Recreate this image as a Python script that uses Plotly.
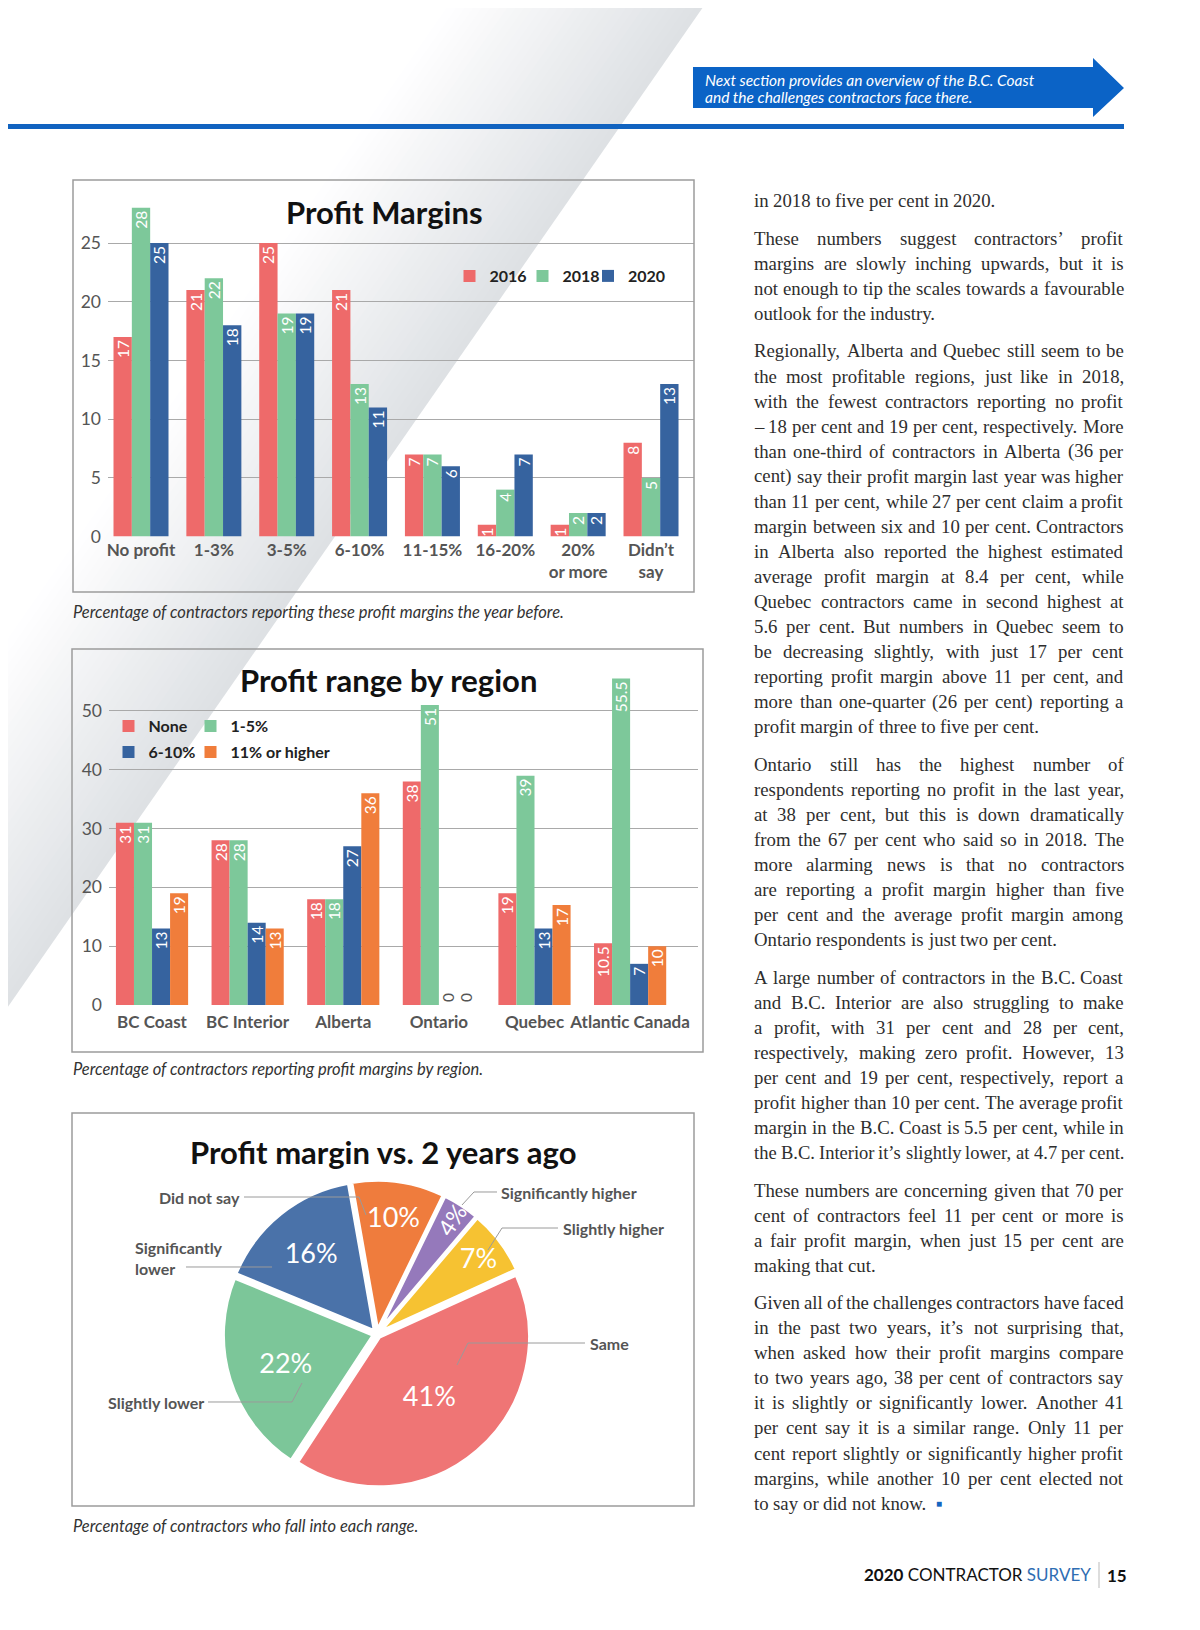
import plotly.graph_objects as go

# ---------------- DATA ----------------
margin_cats = ["No profit", "1-3%", "3-5%", "6-10%", "11-15%", "16-20%", "20%<br>or more", "Didn’t<br>say"]
margin_2016 = [17, 21, 25, 21, 7, 1, 1, 8]
margin_2018 = [28, 22, 19, 13, 7, 4, 2, 5]
margin_2020 = [25, 18, 19, 11, 6, 7, 2, 13]
margin_years = ["2016", "2018", "2020"]
margin_ticks = [0, 5, 10, 15, 20, 25]

regions = ["BC Coast", "BC Interior", "Alberta", "Ontario", "Quebec", "Atlantic Canada"]
region_none = [31, 28, 18, 38, 19, 10.5]
region_1_5 = [31, 28, 18, 51, 39, 55.5]
region_6_10 = [13, 14, 27, 0, 13, 7]
region_11_up = [19, 13, 36, 0, 17, 10]
region_series = ["None", "1-5%", "6-10%", "11% or higher"]
region_ticks = [0, 10, 20, 30, 40, 50]

pie_labels = ["Did not say", "Significantly higher", "Slightly higher", "Same", "Slightly lower", "Significantly lower"]
pie_values = [10, 4, 7, 41, 22, 16]

body_paragraphs = [
    ["in 2018 to five per cent in 2020."],
    ["These numbers suggest contractors’ profit",
     "margins are slowly inching upwards, but it is",
     "not enough to tip the scales towards a favourable",
     "outlook for the industry."],
    ["Regionally, Alberta and Quebec still seem to be",
     "the most profitable regions, just like in 2018,",
     "with the fewest contractors reporting no profit",
     "– 18 per cent and 19 per cent, respectively. More",
     "than one-third of contractors in Alberta (36 per",
     "cent) say their profit margin last year was higher",
     "than 11 per cent, while 27 per cent claim a profit",
     "margin between six and 10 per cent. Contractors",
     "in Alberta also reported the highest estimated",
     "average profit margin at 8.4 per cent, while",
     "Quebec contractors came in second highest at",
     "5.6 per cent. But numbers in Quebec seem to",
     "be decreasing slightly, with just 17 per cent",
     "reporting profit margin above 11 per cent, and",
     "more than one-quarter (26 per cent) reporting a",
     "profit margin of three to five per cent."],
    ["Ontario still has the highest number of",
     "respondents reporting no profit in the last year,",
     "at 38 per cent, but this is down dramatically",
     "from the 67 per cent who said so in 2018. The",
     "more alarming news is that no contractors",
     "are reporting a profit margin higher than five",
     "per cent and the average profit margin among",
     "Ontario respondents is just two per cent."],
    ["A large number of contractors in the B.C. Coast",
     "and B.C. Interior are also struggling to make",
     "a profit, with 31 per cent and 28 per cent,",
     "respectively, making zero profit. However, 13",
     "per cent and 19 per cent, respectively, report a",
     "profit higher than 10 per cent. The average profit",
     "margin in the B.C. Coast is 5.5 per cent, while in",
     "the B.C. Interior it’s slightly lower, at 4.7 per cent."],
    ["These numbers are concerning given that 70 per",
     "cent of contractors feel 11 per cent or more is",
     "a fair profit margin, when just 15 per cent are",
     "making that cut."],
    ["Given all of the challenges contractors have faced",
     "in the past two years, it’s not surprising that,",
     "when asked how their profit margins compare",
     "to two years ago, 38 per cent of contractors say",
     "it is slightly or significantly lower. Another 41",
     "per cent say it is a similar range. Only 11 per",
     "cent report slightly or significantly higher profit",
     "margins, while another 10 per cent elected not",
     "to say or did not know."],
]

# ---------------- HELPERS ----------------
W, H = 1200, 1630
OFF = 8  # page body margin compensation
def X(px): return (px - OFF) / W
def Y(py): return 1 - (py - OFF) / H

FONT = "Lato"
RED, GREEN, BLUE, ORANGE = "#ee6a6a", "#7dc89a", "#36639f", "#f07d3b"

fig = go.Figure()
shapes, annots = [], []

# background diagonal grey band (stepped gradient); edge passes through (708,0) on the page
N, BW, slope = 30, 255.0, 0.6953
def edge(yy): return 708 - slope * yy
for k in range(N):
    a, b = k * BW / N, (k + 1) * BW / N
    t = 1 - (k + 0.5) / N
    g = [int(round(255 - t * (255 - c))) for c in (221, 224, 228)]
    y0, y1 = -20, H + 20
    pts = [(edge(y0) - a, y0), (edge(y0) - b - 1, y0), (edge(y1) - b - 1, y1), (edge(y1) - a, y1)]
    path = "M " + " L ".join(f"{X(px):.5f},{Y(py):.5f}" for px, py in pts) + " Z"
    shapes.append(dict(type="path", path=path, xref="paper", yref="paper", layer="below",
                       fillcolor=f"rgb({g[0]},{g[1]},{g[2]})", line=dict(width=0)))

def rect(x0, y0, x1, y1, **kw):
    shapes.append(dict(type="rect", xref="paper", yref="paper", x0=X(x0), x1=X(x1), y0=Y(y1), y1=Y(y0), **kw))

def poly(pts, color="#9a9a9a", width=1, fill=None, layer="above"):
    path = "M " + " L ".join(f"{X(px):.5f},{Y(py):.5f}" for px, py in pts)
    d = dict(type="path", path=path + (" Z" if fill else ""), xref="paper", yref="paper", layer=layer,
             line=dict(color=color, width=width))
    if fill:
        d["fillcolor"] = fill
    shapes.append(d)

def text(t, x, y, size=15, color="#333", xanchor="left", family=FONT, **kw):
    annots.append(dict(text=t, x=X(x), y=Y(y), xref="paper", yref="paper", showarrow=False,
                       borderpad=0, borderwidth=0,
                       xanchor=xanchor, yanchor="middle", font=dict(family=family, size=size, color=color), **kw))

# header arrow + rule
poly([(693, 67), (1093, 67), (1093, 58), (1124, 88), (1093, 117), (1093, 108), (693, 108)],
     color="#0b63c6", width=0, fill="#0b63c6")
rect(-10, 124, 1124, 129, fillcolor="#1163c0", line=dict(width=0))
text("<i>Next section provides an overview of the B.C. Coast</i>", 705, 80, size=15.5, color="white")
text("<i>and the challenges contractors face there.</i>", 705, 97, size=15.5, color="white")

# chart frames
for (x0, y0, x1, y1) in [(73, 180, 694, 592), (72, 649, 703, 1052), (72, 1113, 694, 1506)]:
    rect(x0, y0, x1, y1, line=dict(color="#9c9c9c", width=1.5))

# titles & captions
text("<b>Profit Margins</b>", 384, 212, size=31, color="#111", xanchor="center")
text("<b>Profit range by region</b>", 388, 680, size=31, color="#111", xanchor="center")
text("<b>Profit margin vs. 2 years ago</b>", 383, 1152, size=31, color="#111", xanchor="center")
text("<i>Percentage of contractors reporting these profit margins the year before.</i>", 73, 612, size=16.5, color="#333")
text("<i>Percentage of contractors reporting profit margins by region.</i>", 73, 1069, size=16.5, color="#333")
text("<i>Percentage of contractors who fall into each range.</i>", 73, 1526, size=16.5, color="#333")

# ---------------- BAR CHARTS ----------------
def bar(name, cats, vals, color, xa, ya, legend):
    return go.Bar(x=cats, y=vals, name=name, marker=dict(color=color, line=dict(width=0)),
                  text=[f"{v:g}" for v in vals],
                  textposition=["outside" if v == 0 else "inside" for v in vals],
                  insidetextanchor="end", textangle=-90, constraintext="none", cliponaxis=False,
                  insidetextfont=dict(family=FONT, size=15.5, color="white"),
                  outsidetextfont=dict(family=FONT, size=15.5, color="#555"),
                  xaxis=xa, yaxis=ya, legend=legend, hoverinfo="skip")

leg1 = ["legend", "legend2", "legend3"]
for nm, vals, col, lg in zip(margin_years, [margin_2016, margin_2018, margin_2020], [RED, GREEN, BLUE], leg1):
    fig.add_trace(bar(nm, margin_cats, vals, col, "x", "y", lg))
leg2 = ["legend4", "legend5", "legend6", "legend7"]
for nm, vals, col, lg in zip(region_series, [region_none, region_1_5, region_6_10, region_11_up],
                             [RED, GREEN, BLUE, ORANGE], leg2):
    fig.add_trace(bar(nm, regions, vals, col, "x2", "y2", lg))

# ---------------- PIE ----------------
PIE_COLORS = ["#ef7c3d", "#9579bb", "#f6c232", "#ef7575", "#7cc699", "#4a72a9"]
cx, cy, R = 377, 1334, 154
fig.add_trace(go.Pie(labels=pie_labels, values=pie_values, sort=False, direction="clockwise", rotation=-10,
                     marker=dict(colors=PIE_COLORS, line=dict(color="white", width=3.5)),
                     texttemplate="%{value}%", textposition="inside", insidetextorientation="auto",
                     textfont=dict(family=FONT, size=27, color="white"), pull=0.025, showlegend=False,
                     domain=dict(x=[X(cx - R), X(cx + R)], y=[Y(cy + R), Y(cy - R)]), hoverinfo="skip"))

LBL = dict(size=16, color="#555")
text("<b>Did not say</b>", 240, 1197, xanchor="right", **LBL)
poly([(244, 1197), (359, 1197), (366, 1215)])
text("<b>Significantly higher</b>", 501, 1192, **LBL)
poly([(497, 1192), (474, 1192), (462, 1205)])
text("<b>Slightly higher</b>", 563, 1228, **LBL)
poly([(558, 1228), (502, 1228), (488, 1250)])
text("<b>Same</b>", 590, 1343, **LBL)
poly([(585, 1343), (468, 1343), (457, 1365)])
text("<b>Significantly<br>lower</b>", 135, 1258, align="left", **LBL)
poly([(186, 1267), (272, 1267)])
text("<b>Slightly lower</b>", 204, 1402, xanchor="right", **LBL)
poly([(208, 1402), (292, 1402), (302, 1383)])

# ---------------- BODY TEXT (justified) ----------------
TIMES = dict(zip("abcdefghijklmnopqrstuvwxyz",
                 [444, 500, 444, 500, 444, 333, 500, 500, 278, 278, 500, 278, 778, 500, 500, 500, 500, 333, 389, 278,
                  500, 500, 722, 500, 500, 444]))
TIMES.update(dict(zip("ABCDEFGHIJKLMNOPQRSTUVWXYZ",
                      [722, 667, 667, 722, 611, 556, 722, 722, 333, 389, 722, 611, 889, 722, 722, 556, 722, 667, 556,
                       611, 722, 722, 944, 722, 722, 611])))
TIMES.update({c: 500 for c in "0123456789"})
TIMES.update({" ": 250, ".": 250, ",": 250, "’": 333, "–": 500, "(": 333, ")": 333, "-": 333})
BFS = 18.8
MINGAP = 4.0
def tw(s, fs): return sum(TIMES.get(c, 500) for c in s) / 1000 * fs

COLX0, COLX1 = 754, 1124
COLW = COLX1 - COLX0
y = 200.7
LH, PG = 25.05, 12.5
end_x = COLX0
for pi, para in enumerate(body_paragraphs):
    if pi > 0:
        y += PG
    for li, line in enumerate(para):
        words = line.split(" ")
        fs = BFS
        base = sum(tw(w, fs) for w in words)
        if base + MINGAP * (len(words) - 1) > COLW:
            fs = BFS * (COLW - MINGAP * (len(words) - 1)) / base
        widths = [tw(w, fs) for w in words]
        natural = sum(widths) + tw(" ", fs) * (len(words) - 1)
        last = li == len(para) - 1
        justify = (not last or natural > 0.95 * COLW) and len(words) > 1
        gap = (COLW - sum(widths)) / (len(words) - 1) if justify else tw(" ", fs)
        xpos = COLX0
        for wi, (wd, wdw) in enumerate(zip(words, widths)):
            if justify and wi == len(words) - 1:
                text(wd, COLX1, y, size=fs, color="#2e2e2e", family="Liberation Serif", xanchor="right")
            else:
                text(wd, xpos, y, size=fs, color="#2e2e2e", family="Liberation Serif")
            xpos += wdw + gap
        end_x = xpos - gap
        y += LH
text("■", end_x + 9, y - LH, size=10, color="#1565c0")

# footer
text("<b>2020</b> CONTRACTOR <span style='color:#2f6db3'>SURVEY</span>", 1091, 1574, size=17, color="#111",
     xanchor="right")
text("<b>15</b>", 1107, 1575, size=17, color="#111")
rect(1098, 1562, 1100, 1588, fillcolor="#dddddd", line=dict(width=0))

# ---------------- LAYOUT ----------------
AX = dict(showline=False, zeroline=False, ticks="", fixedrange=True)
LEGFONT = dict(family=FONT, size=16, color="#222", weight="bold")
def leg(cx_sq, cy_sq):
    return dict(orientation="h", x=X(cx_sq - 20.5), y=Y(cy_sq), xanchor="left", yanchor="middle",
                bgcolor="rgba(0,0,0,0)", font=LEGFONT, itemclick=False, itemdoubleclick=False)

fig.update_layout(
    template="none", width=W, height=H, autosize=False, margin=dict(l=0, r=0, t=0, b=0),
    paper_bgcolor="white", plot_bgcolor="rgba(0,0,0,0)",
    barmode="group", bargap=0.245, bargroupgap=0,
    xaxis=dict(domain=[X(108), X(694)], anchor="y", type="category", range=[-0.453, 7.59], showgrid=False,
               tickfont=dict(family=FONT, size=17, color="#555", weight="bold"), ticklabelstandoff=1, **AX),
    yaxis=dict(domain=[Y(536.6), Y(200)], anchor="x", range=[0, 28.67], tickvals=margin_ticks, showgrid=True,
               gridcolor="#a9a9a9", gridwidth=1, tickfont=dict(family=FONT, size=17.5, color="#555"),
               ticklabelstandoff=6, **AX),
    xaxis2=dict(domain=[X(109), X(698)], anchor="y2", type="category", range=[-0.45, 5.71], showgrid=False,
                tickfont=dict(family=FONT, size=17, color="#555", weight="bold"), ticklabelstandoff=5, **AX),
    yaxis2=dict(domain=[Y(1005), Y(668)], anchor="x2", range=[0, 57.3], tickvals=region_ticks, showgrid=True,
                gridcolor="#a9a9a9", gridwidth=1, tickfont=dict(family=FONT, size=17.5, color="#555"),
                ticklabelstandoff=6, **AX),
    legend=leg(470, 276), legend2=leg(543, 276), legend3=leg(608.5, 276),
    legend4=leg(129, 726), legend5=leg(211, 726), legend6=leg(129, 752), legend7=leg(211, 752),
    shapes=shapes, annotations=annots,
)

fig.write_html("out.html")
